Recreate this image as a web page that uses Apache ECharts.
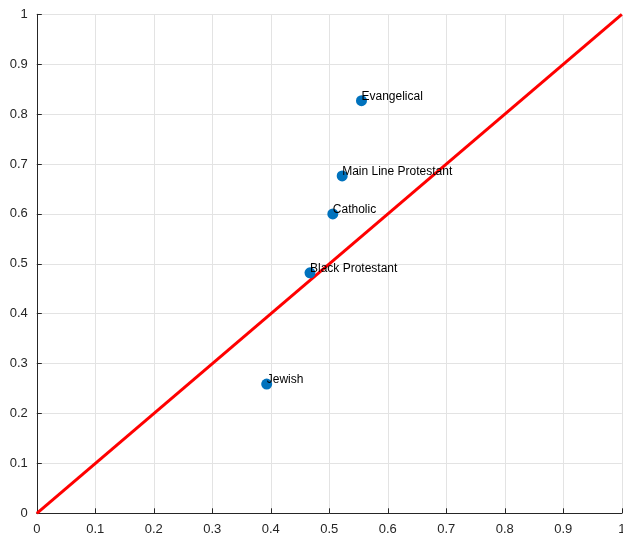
<!DOCTYPE html>
<html><head><meta charset="utf-8">
<script src="https://cdn.jsdelivr.net/npm/echarts@6/dist/echarts.min.js"></script>
<style>html,body{margin:0;padding:0;background:#fff}#c{width:623px;height:540px}</style>
</head><body><div id="c"></div>
<script>
const groups = ['Evangelical','Main Line Protestant','Catholic','Black Protestant','Jewish'];
const xVals = [0.555, 0.522, 0.506, 0.467, 0.393];
const yVals = [0.827, 0.676, 0.600, 0.482, 0.259];
const refLineX = [0, 1];
const refLineY = [0, 1];
const axisTicks = [0,0.1,0.2,0.3,0.4,0.5,0.6,0.7,0.8,0.9,1];

const fmt = v => (Math.abs(v) < 1e-9 ? '0' : (Math.abs(v-1) < 1e-9 ? '1' : String(+v.toFixed(1))));
const axisCommon = {
  min: 0, max: 1, interval: 0.1,
  axisLine: {show: true, onZero: false, lineStyle: {color: '#262626', width: 1}},
  axisTick: {show: true, inside: true, length: 5, lineStyle: {color: '#262626'}},
  axisLabel: {color: '#262626', fontSize: 13, fontFamily: 'Liberation Sans, Arial, sans-serif', formatter: fmt},
  splitLine: {show: true, lineStyle: {color: '#e3e3e3', width: 1}}
};
const chart = echarts.init(document.getElementById('c'), null, {renderer: 'canvas'});
chart.setOption({
  animation: false,
  grid: {left: 36.8, right: 1.2, top: 14.3, bottom: 26.7, containLabel: false, outerBoundsMode: 'none'},
  xAxis: Object.assign({type: 'value'}, axisCommon, {axisLabel: Object.assign({}, axisCommon.axisLabel, {margin: 10})}),
  yAxis: Object.assign({type: 'value'}, axisCommon, {axisLabel: Object.assign({}, axisCommon.axisLabel, {margin: 9})}),
  series: [
    {
      type: 'line',
      data: refLineX.map((x, i) => [x, refLineY[i]]),
      showSymbol: false, symbol: 'none',
      lineStyle: {color: '#ff0000', width: 3},
      z: 3
    },
    {
      type: 'scatter',
      data: xVals.map((x, i) => ({value: [x, yVals[i]], name: groups[i]})),
      symbolSize: 11,
      itemStyle: {color: '#0072BD', opacity: 1},
      label: {
        show: true, position: 'inside', align: 'left', verticalAlign: 'middle',
        offset: [0, -4],
        formatter: p => p.name,
        color: '#000', fontSize: 12, fontFamily: 'Liberation Sans, Arial, sans-serif'
      },
      z: 4
    }
  ]
});
</script></body></html>
